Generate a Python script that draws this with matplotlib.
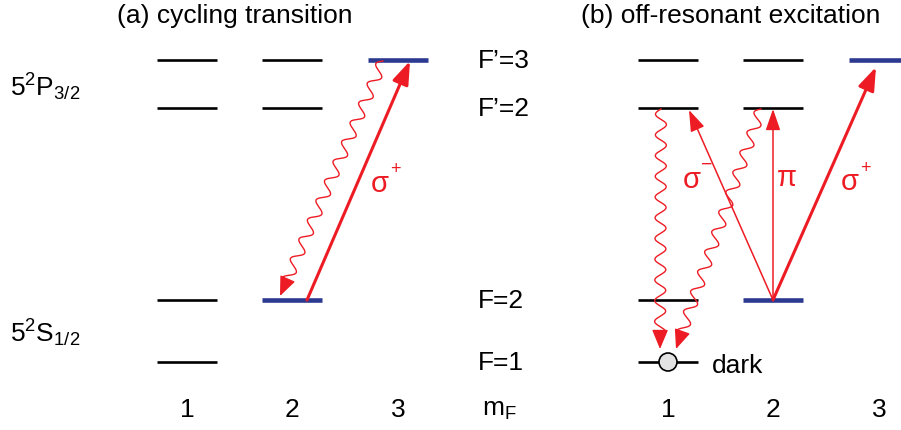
import numpy as np
import matplotlib.pyplot as plt

plt.rcParams['font.family'] = ['Liberation Sans', 'DejaVu Sans']
plt.rcParams['mathtext.fontset'] = 'custom'
plt.rcParams['mathtext.rm'] = 'Liberation Sans'
plt.rcParams['mathtext.it'] = 'Liberation Sans'

RED = "#ed1c24"
BLUE = "#2b3990"

# level energies (pixel rows) and column positions (left edge of each m_F level)
level_names = ["F’=3", "F’=2", "F=2", "F=1"]
level_y = [61, 109, 301, 363]
cols_a = [157, 262, 368]
cols_b = [638, 743, 849]
level_w = 60
mf_labels = ["1", "2", "3"]

# which (column, level) exist, and which are populated (blue)
present = [(0, 0), (0, 1), (0, 2), (0, 3), (1, 0), (1, 1), (1, 2), (2, 0)]
populated = [(1, 2), (2, 0)]

fig = plt.figure(figsize=(9.01, 4.31), dpi=100)
ax = fig.add_axes([0, 0, 1, 1])
ax.set_xlim(0, 901)
ax.set_ylim(431, 0)
ax.axis("off")


def cx(cols, c):
    return cols[c] + level_w / 2


def arrow(p0, p1, lw, hl=12, hw=8):
    ax.annotate("", xy=p1, xytext=p0,
                arrowprops=dict(arrowstyle=f"-|>,head_length={hl/10:.2f},head_width={hw/20:.2f}",
                                color=RED, lw=lw, shrinkA=0, shrinkB=0))


def wavy(p0, p1, period=21, amp=5.5, lw=1.0):
    p0 = np.array(p0, float)
    p1 = np.array(p1, float)
    d = p1 - p0
    L = np.hypot(*d)
    u = d / L
    n = np.array([-u[1], u[0]])
    stop = L - 12
    halves = max(1, round(2 * stop / period))
    per = 2 * stop / halves
    s = np.linspace(0, stop, 500)
    off = amp * np.sin(2 * np.pi * s / per)
    pts = p0[None, :] + s[:, None] * u[None, :] + off[:, None] * n[None, :]
    ax.plot(pts[:, 0], pts[:, 1], color=RED, lw=lw)
    arrow(tuple(pts[-1]), tuple(p1), lw=lw, hl=12, hw=10)


for cols in (cols_a, cols_b):
    for c, l in present:
        hot = (c, l) in populated
        ax.plot([cols[c], cols[c] + level_w], [level_y[l], level_y[l]],
                color=BLUE if hot else "black", lw=3.3 if hot else 1.9,
                solid_capstyle="butt", zorder=2)
    for c, t in enumerate(mf_labels):
        ax.text(cx(cols, c), 410, t, ha="center", va="center", fontsize=19)

# state labels
ax.text(10, 87, r"$5^2\mathrm{P}_{3/2}$", fontsize=19, va="center", ha="left")
ax.text(10, 333, r"$5^2\mathrm{S}_{1/2}$", fontsize=19, va="center", ha="left")
for name, y in zip(level_names, level_y):
    ax.text(478, y, name, fontsize=19, va="center", ha="left")
ax.text(482, 410, r"$\mathrm{m_F}$", fontsize=19, va="center", ha="left")

ax.text(235, 16, "(a) cycling transition", fontsize=19, ha="center", va="center")
ax.text(731, 16, "(b) off-resonant excitation", fontsize=19, ha="center", va="center")

# (a) cycling transition
arrow((307, level_y[2]), (410, level_y[0] + 1), lw=2.2, hl=14, hw=10)
wavy((383, level_y[0] + 1), (280, level_y[2] - 4))
ax.text(380, 184, "σ", color=RED, fontsize=21, ha="center", va="center")
ax.text(395, 170, "+", color=RED, fontsize=13, ha="center", va="center")

# (b) off-resonant excitation
x0 = cx(cols_b, 1)
arrow((x0, level_y[2]), (689, level_y[1] + 2), lw=1.1, hl=13, hw=9)
arrow((x0, level_y[2]), (x0, level_y[1] + 1), lw=1.1, hl=13, hw=9)
arrow((x0, level_y[2]), (876, level_y[0] + 7), lw=2.2, hl=14, hw=10)
wavy((661, level_y[1] + 1), (660, 350))
wavy((761, level_y[1] + 1), (676, 350))
ax.text(692, 180, "σ", color=RED, fontsize=21, ha="center", va="center")
ax.text(707, 165, "−", color=RED, fontsize=14, ha="center", va="center")
ax.text(787, 178, "π", color=RED, fontsize=21, ha="center", va="center")
ax.text(850, 182, "σ", color=RED, fontsize=21, ha="center", va="center")
ax.text(865, 169, "+", color=RED, fontsize=13, ha="center", va="center")

# dark state marker
ax.add_patch(plt.Circle((668, level_y[3]), 9, facecolor="#e3e3e3", edgecolor="black",
                        lw=1.2, zorder=3))
ax.text(712, 366, "dark", fontsize=19, va="center", ha="left")

fig.savefig("out.png", dpi=100)
